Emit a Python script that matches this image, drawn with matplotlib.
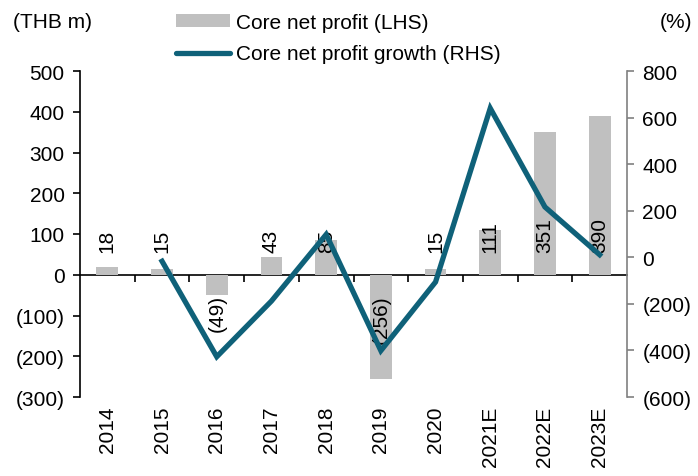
import numpy as np
import matplotlib
matplotlib.use("Agg")
import matplotlib.pyplot as plt
from matplotlib.patches import Patch
from matplotlib.lines import Line2D

plt.rcParams['font.family'] = ['Liberation Sans', 'DejaVu Sans']

# data
years = ["2014", "2015", "2016", "2017", "2018", "2019", "2020", "2021E", "2022E", "2023E"]
profit = [18, 15, -49, 43, 85, -256, 15, 111, 351, 390]
growth = [np.nan, -17, -427, -188, 98, -401, -106, 640, 216, 11]

bar_col = "#C0C0C0"
line_col = "#0F6179"
fs = 15

fig = plt.figure(figsize=(6.98, 4.77), dpi=100)
ax = fig.add_axes([80 / 698, 1 - 398 / 477, 547 / 698, 326 / 477])
x = np.arange(len(years))

ax.bar(x, profit, width=0.4, color=bar_col, zorder=2)
ax.set_xlim(-0.5, len(years) - 0.5)
ax.set_ylim(-300, 500)
ax.set_yticks(range(-300, 501, 100))
ax.set_yticklabels([f"({-v})" if v < 0 else str(v) for v in range(-300, 501, 100)], fontsize=fs)
ax.set_xticks(x)
ax.set_xticklabels(years, rotation=90, fontsize=fs)
ax.tick_params(axis='x', length=0, pad=6)
ax.tick_params(axis='y', direction='out', length=5, width=1.2, pad=6)
for s in ['top', 'right', 'bottom']:
    ax.spines[s].set_visible(False)
ax.spines['left'].set_linewidth(1.2)

# x axis line at zero with category boundary ticks
zero_frac = (0 - (-300)) / 800
sec = ax.secondary_xaxis(zero_frac)
sec.set_xticks(np.arange(0.5, len(years) - 1, 1.0))
sec.set_xticklabels([])
sec.tick_params(direction='out', length=5, width=1.2)
sec.spines['bottom'].set_linewidth(1.2)

# value labels
for xi, v in zip(x, profit):
    if v >= 0:
        ax.text(xi, 55, str(v), rotation=90, ha='center', va='bottom', fontsize=fs, zorder=3)
    else:
        ax.text(xi, -48, f"({-v})", rotation=90, ha='center', va='top', fontsize=fs, zorder=3)

ax2 = ax.twinx()
ax2.plot(x, growth, color=line_col, lw=3.8, solid_joinstyle='miter', zorder=4)
ax2.set_ylim(-600, 800)
ax2.set_yticks(range(-600, 801, 200))
ax2.set_yticklabels([f"({-v})" if v < 0 else str(v) for v in range(-600, 801, 200)], fontsize=fs)
ax2.tick_params(axis='y', direction='out', length=5, width=1.2, color='#808080', pad=6)
for s in ['top', 'left', 'bottom']:
    ax2.spines[s].set_visible(False)
ax2.spines['right'].set_color('#808080')
ax2.spines['right'].set_linewidth(1.2)

fig.text(13 / 698, 1 - 22 / 477, "(THB m)", fontsize=fs, va='center', ha='left')
fig.text(692 / 698, 1 - 22 / 477, "(%)", fontsize=fs, va='center', ha='right')

handles = [Patch(facecolor=bar_col, edgecolor='none'),
           Line2D([0], [0], color=line_col, lw=3.8, solid_capstyle='round')]
fig.legend(handles, ["Core net profit (LHS)", "Core net profit growth (RHS)"],
           loc='upper left', bbox_to_anchor=(176 / 698, 1 - 14 / 477), frameon=False,
           fontsize=fs, handlelength=2.6, handleheight=0.55, handletextpad=0.3,
           labelspacing=0.6, borderaxespad=0, borderpad=0)

fig.savefig("out.png", dpi=100)
